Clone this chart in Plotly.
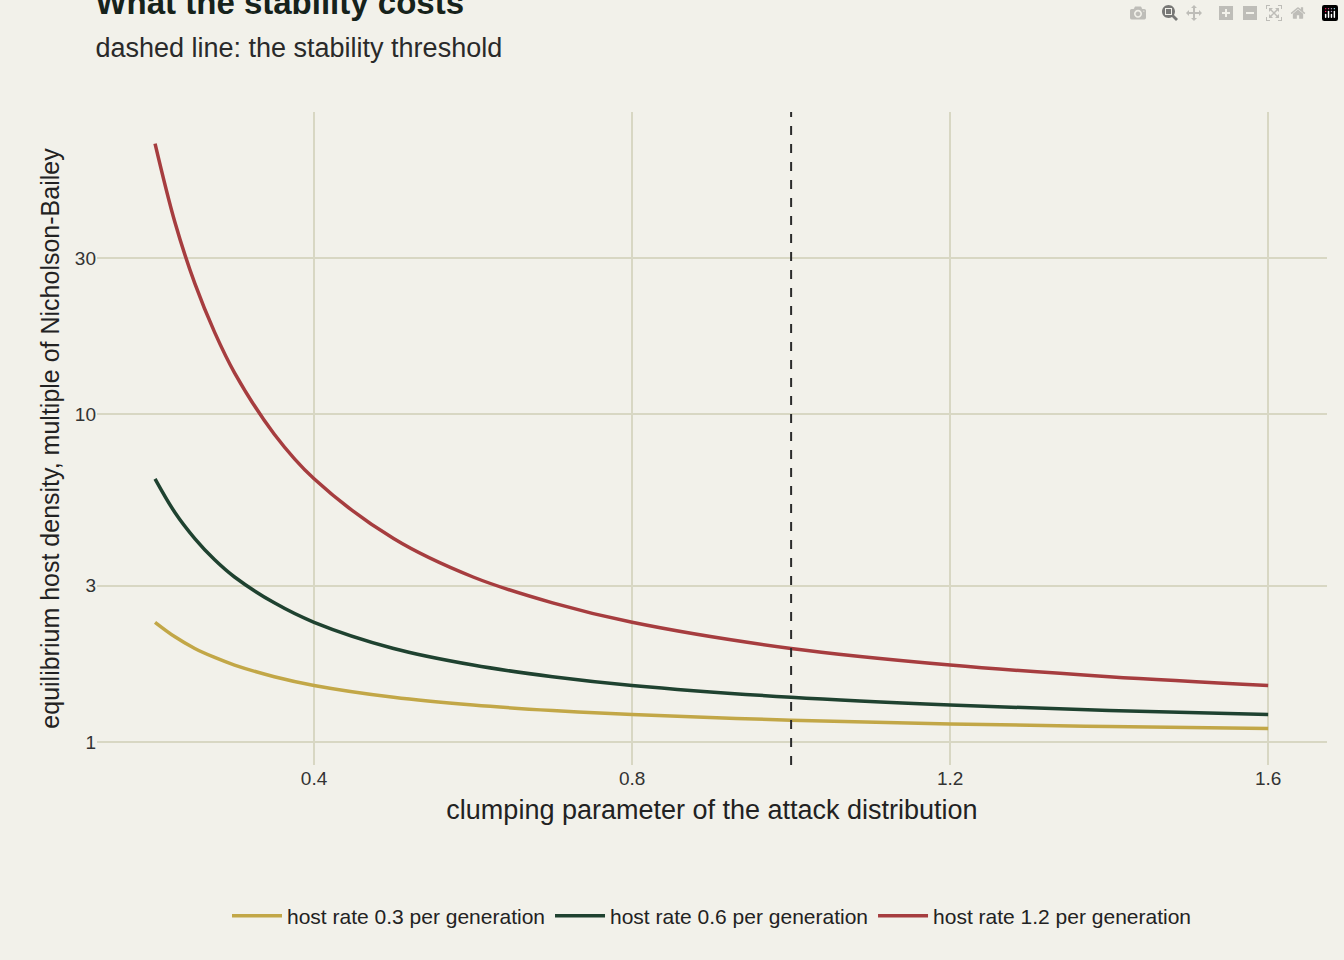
import plotly.graph_objects as go

# clumping parameter k
clumping = [0.2, 0.225, 0.25, 0.275, 0.3, 0.35, 0.4, 0.5, 0.6, 0.7, 0.8, 1.0, 1.2, 1.4, 1.6]

# equilibrium host density relative to Nicholson-Bailey
rate_03 = [2.32, 2.095, 1.93, 1.812, 1.718, 1.583, 1.489, 1.370, 1.297, 1.248, 1.213, 1.166, 1.136, 1.115, 1.100]
rate_06 = [6.36, 5.02, 4.18, 3.60, 3.19, 2.66, 2.32, 1.93, 1.718, 1.583, 1.489, 1.370, 1.297, 1.248, 1.213]
rate_12 = [67.1, 38.6, 25.1, 17.8, 13.4, 8.70, 6.36, 4.18, 3.19, 2.66, 2.32, 1.93, 1.718, 1.583, 1.489]

threshold = 1.0
y_ticks = [1, 3, 10, 30]

series = [
    ("host rate 0.3 per generation", rate_03, "#c2a747"),
    ("host rate 0.6 per generation", rate_06, "#1f4230"),
    ("host rate 1.2 per generation", rate_12, "#a63d3f"),
]

fig = go.Figure()
for name, vals, col in series:
    fig.add_trace(go.Scatter(x=clumping, y=vals, mode="lines", name=name,
                             line=dict(color=col, width=3.5, shape="spline")))

fig.add_vline(x=threshold, line=dict(color="#2b2b2b", width=2, dash="dash"))

fig.update_layout(
    width=1344, height=960,
    paper_bgcolor="#f2f1ea", plot_bgcolor="#f2f1ea",
    font=dict(family="Liberation Sans, Arial, sans-serif", color="#222", size=20),
    margin=dict(l=97, r=17, t=112, b=195),
    title=dict(text="<b>What the stability costs</b><br><span style='font-size:27px;color:#2a2a2a'>dashed line: the stability threshold</span>",
               x=0.071, xanchor="left", y=0.985, yanchor="top",
               font=dict(size=33, color="#16221b")),
    legend=dict(orientation="h", x=0.5, xanchor="center", y=-0.2, yanchor="top",
                font=dict(size=21, color="#222"), itemwidth=50),
    showlegend=True,
)
fig.update_xaxes(range=[0.127, 1.674], tickvals=[0.4, 0.8, 1.2, 1.6],
                 ticktext=["0.4", "0.8", "1.2", "1.6"],
                 gridcolor="#d8d7c3", gridwidth=1.5, zeroline=False,
                 title=dict(text="clumping parameter of the attack distribution", font=dict(size=27), standoff=12),
                 tickfont=dict(size=19, color="#333"))
fig.update_yaxes(type="log", range=[-0.07, 1.923], tickvals=y_ticks,
                 ticktext=[str(v) for v in y_ticks],
                 gridcolor="#d8d7c3", gridwidth=1.5, zeroline=False,
                 title=dict(text="equilibrium host density, multiple of Nicholson-Bailey", font=dict(size=25), standoff=8),
                 tickfont=dict(size=19, color="#333"))

fig.write_html("out.html", post_script="document.body.style.margin='0';document.body.style.background='#f2f1ea';")
